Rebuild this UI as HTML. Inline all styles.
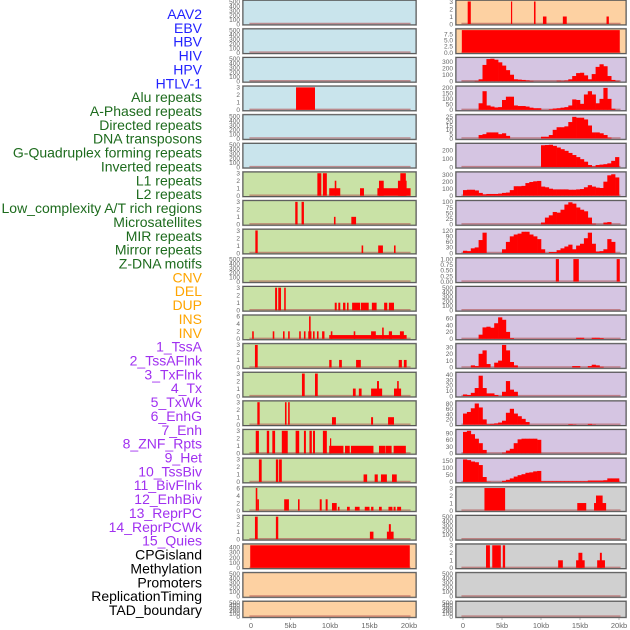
<!DOCTYPE html>
<html><head><meta charset="utf-8"><style>
html,body{margin:0;padding:0;background:#fff;}
svg{display:block;font-family:"Liberation Sans",sans-serif;}
</style></head><body>
<svg id="chart" width="630" height="630" viewBox="0 0 630 630" xmlns="http://www.w3.org/2000/svg">
<g id="labels"></g>
<g id="panels"></g>
<g id="xaxes"></g>
</svg>
<script>
const trackLabels = ["AAV2","EBV","HBV","HIV","HPV","HTLV-1","Alu repeats","A-Phased repeats","Directed repeats","DNA transposons","G-Quadruplex forming repeats","Inverted repeats","L1 repeats","L2 repeats","Low_complexity A/T rich regions","Microsatellites","MIR repeats","Mirror repeats","Z-DNA motifs","CNV","DEL","DUP","INS","INV","1_TssA","2_TssAFlnk","3_TxFlnk","4_Tx","5_TxWk","6_EnhG","7_Enh","8_ZNF_Rpts","9_Het","10_TssBiv","11_BivFlnk","12_EnhBiv","13_ReprPC","14_ReprPCWk","15_Quies","CPGisland","Methylation","Promoters","ReplicationTiming","TAD_boundary"];
const xTickValues = [0,5,10,15,20];
const xTickLabels = ["0","5kb","10kb","15kb","20kb"];
const emptyTicks = [0,100,200,300,400,500];

// Left column segments [startKb, endKb, value]
const leftAlu = [[5.7,8.1,3]];
const leftRow6 = [[8.4,8.9,3],[9.1,9.6,3],[9.9,11.3,1],[10.6,10.8,2],[13.8,14.3,1],[16,20.2,1],[16.2,16.8,2],[18.6,19.7,2],[18.9,19.6,3]];
const leftRow7 = [[5.6,5.9,3],[6.4,6.7,3],[10.5,10.7,1],[12.7,13.3,1]];
const leftRow8 = [[0.55,0.85,3],[14,14.2,1],[16.1,16.7,1],[18.1,18.3,1]];
const leftRow10 = [[3.05,3.3,3],[3.45,3.8,3],[4.2,4.4,3],[10.6,10.85,1],[11.05,11.3,1],[11.65,11.95,1],[12.15,12.35,1],[12.8,13.8,1],[13.9,14.9,1],[15.3,15.9,1],[16.85,17.25,1],[17.45,18.1,1]];
const leftRow11 = [[0.15,0.35,2],[2.75,2.95,2],[4.05,4.25,2],[4.7,4.9,2],[6.1,6.3,2],[6.7,6.9,2],[7.25,7.65,2],[7.35,7.55,6],[7.85,8.05,2],[8.35,8.55,2],[9,9.3,2],[9.9,19.7,1],[10.1,10.3,2],[13,13.2,2],[15.2,15.8,2],[16.6,16.8,3],[17.45,17.85,2],[18.85,19.35,2]];
const leftRow12 = [[0.5,0.85,3],[9.9,10.2,1],[11.15,11.5,1],[13.3,13.9,1],[18.7,19.1,1],[19.35,19.7,1]];
const leftRow13 = [[6.45,6.8,3],[8.1,8.45,3],[12.9,13.25,1],[13.65,14,1],[15.2,16.6,1],[15.95,16.2,2],[18.1,19,1],[18.5,18.7,2]];
const leftRow14 = [[0.8,1.1,3],[4.3,4.5,3],[4.7,4.9,3],[10.25,10.75,1],[15.2,15.45,1],[17.35,18.1,1]];
const leftRow15 = [[0.6,1.0,3],[2.0,2.3,3],[2.7,3.05,3],[3.9,4.65,3],[5.65,6.1,3],[6.7,6.95,3],[7.4,7.7,3],[7.85,8.1,3],[9.1,9.6,3],[10,10.15,2],[9.9,11.7,1],[11.9,12.5,1],[12.65,15.5,1],[16.2,17,1],[17.05,17.8,1],[18.05,19.6,1]];
const leftRow16 = [[1.0,1.35,3],[3.15,3.45,3],[3.55,3.9,3],[14.25,14.7,1],[15.65,16.05,1],[16.45,17.2,1],[17.85,18.45,1]];
const leftRow17 = [[0.6,0.8,6],[0.8,1.0,3],[4.2,4.8,3],[5.95,6.15,3],[8.7,8.95,3],[9.45,9.7,3],[10.25,10.85,2],[11,11.2,1],[12.15,12.5,1],[13.15,13.75,1],[14.4,15,1],[15.2,15.5,1],[16.2,16.55,1],[17.4,17.9,1],[18.05,18.3,1],[18.5,19,1]];
const leftRow18 = [[0.5,0.85,3],[3.15,3.45,3],[15.05,15.5,1],[17.2,18.05,1],[17.45,17.7,2]];
const leftCpg = [[-0.1,20.1,440]];

// Right column segments
const rightRow0 = [[0.6,1.0,3],[6.15,6.3,3],[9.1,9.3,3],[10.25,10.7,1],[12.8,13.3,1],[18.4,18.7,1]];
const rightRow1 = [[-0.15,20.1,9.1]];
const rightRow9 = [[11.9,12.3,1],[14.15,14.85,1],[19.7,20.1,1]];
const rightRow17 = [[2.75,5.4,3],[14.65,15.8,1],[16.8,18.35,1],[17.05,17.9,2]];
const rightRow19 = [[2.95,3.45,3],[3.75,4.85,3],[5.1,5.4,3],[12.2,12.8,1],[14.5,15.6,1],[14.8,15.3,2],[17.2,18.2,1],[17.55,17.8,2]];

// Right column binned values (0.5kb bins from 0 to 20kb)
const rightRow2 = [0,0,0,5,30,250,340,345,330,290, 240,170,100,30,25,20,12,5,0,0, 0,0,0,0,8,5,10,30,80,125, 130,90,30,110,220,260,230,80,20,5];
const rightRow3 = [0,0,0,0,60,170,40,30,22,25, 90,120,120,40,35,35,30,20,15,15, 0,0,5,12,15,20,25,40,95,90, 55,140,170,140,60,100,200,100,10,0];
const rightRow4 = [0,0,0,0,4,5,7,7,7,5, 6,3,0,0,0,0,0,0,0,0, 2,2,4,10,13,13,14,19,25,24, 24,22,15,7,7,6,4,1,0,0];
const rightRow5 = [0,0,0,0,0,0,0,0,0,0, 0,0,0,0,0,0,0,0,0,0, 262,265,268,255,235,215,195,170,145,120, 95,65,25,8,25,30,35,45,75,120];
const rightRow6 = [80,85,85,75,40,20,25,25,25,30, 40,45,80,135,135,140,180,195,205,210, 130,120,100,90,90,90,90,85,85,90, 95,120,150,130,115,110,200,290,305,260];
const rightRow7 = [0,0,0,0,0,0,0,0,0,0, 0,0,0,0,0,0,0,0,0,0, 8,30,40,55,52,65,88,98,92,75, 65,58,30,3,0,0,8,10,0,0];
const rightRow8 = [12,10,25,30,70,110,0,0,0,0, 20,60,90,100,105,115,115,100,90,75, 20,0,5,5,15,25,35,45,20,40, 50,80,110,50,8,10,20,75,60,0];
const rightRow11 = [0,0,0,0,12,33,35,32,45,62, 55,20,2,0,0,0,0,0,0,0, 0,0,0,0,0,0,0,0,0,3, 3,0,0,3,3,2,0,0,0,0];
const rightRow12 = [0,0,3,2,20,25,5,0,7,10, 33,25,8,3,0,0,0,0,0,0, 0,0,0,0,0,0,0,0,2,2, 0,0,2,4,3,1,0,0,0,0];
const rightRow13 = [3,2,6,15,38,15,5,5,2,0, 8,28,12,8,0,0,0,0,0,0, 0,0,0,0,0,0,0,0,0,0, 0,0,0,0,0,0,0,0,0,0];
const rightRow14 = [42,48,62,80,65,20,2,3,5,8, 15,45,60,42,32,22,10,0,0,0, 0,0,0,0,0,0,0,2,1,0, 0,0,3,1,0,0,0,0,0,0];
const rightRow15 = [95,100,85,65,45,15,0,0,0,0, 3,12,20,45,62,65,65,65,65,60, 0,0,0,0,0,0,0,0,0,0, 0,0,0,0,0,0,0,0,0,0];
const rightRow16 = [160,155,145,140,120,35,2,0,0,0, 8,15,25,38,48,55,65,68,75,78, 5,5,5,5,5,5,5,5,5,5, 5,5,10,10,10,10,12,25,25,25];

const BLUE="#c9e4ec", GREEN="#c9e2a6", ORANGE="#fdd1a2", PURPLE="#d5c5e2", GRAY="#d0d0d0";
const t3=[0,1,2,3], t6=[0,2,4,6];
const leftPanels = [
 {bg:BLUE,ymax:500,ticks:emptyTicks,segs:[]},
 {bg:BLUE,ymax:500,ticks:emptyTicks,segs:[]},
 {bg:BLUE,ymax:500,ticks:emptyTicks,segs:[]},
 {bg:BLUE,ymax:3,ticks:t3,segs:leftAlu},
 {bg:BLUE,ymax:500,ticks:emptyTicks,segs:[]},
 {bg:BLUE,ymax:500,ticks:emptyTicks,segs:[]},
 {bg:GREEN,ymax:3,ticks:t3,segs:leftRow6},
 {bg:GREEN,ymax:3,ticks:t3,segs:leftRow7},
 {bg:GREEN,ymax:3,ticks:t3,segs:leftRow8},
 {bg:GREEN,ymax:500,ticks:emptyTicks,segs:[]},
 {bg:GREEN,ymax:3,ticks:t3,segs:leftRow10},
 {bg:GREEN,ymax:6,ticks:t6,segs:leftRow11},
 {bg:GREEN,ymax:3,ticks:t3,segs:leftRow12},
 {bg:GREEN,ymax:3,ticks:t3,segs:leftRow13},
 {bg:GREEN,ymax:3,ticks:t3,segs:leftRow14},
 {bg:GREEN,ymax:3,ticks:t3,segs:leftRow15},
 {bg:GREEN,ymax:3,ticks:t3,segs:leftRow16},
 {bg:GREEN,ymax:6,ticks:t6,segs:leftRow17},
 {bg:GREEN,ymax:3,ticks:t3,segs:leftRow18},
 {bg:ORANGE,ymax:440,ticks:[0,100,200,300,400],segs:leftCpg},
 {bg:ORANGE,ymax:500,ticks:emptyTicks,segs:[]},
 {bg:ORANGE,ymax:500,ticks:emptyTicks,segs:[]}
];
const rightPanels = [
 {bg:ORANGE,ymax:3,ticks:t3,segs:rightRow0},
 {bg:ORANGE,ymax:9.1,ticks:[0,2.5,5,7.5],fmt:1,segs:rightRow1},
 {bg:PURPLE,ymax:345,ticks:[0,100,200,300],bins:rightRow2},
 {bg:PURPLE,ymax:205,ticks:[0,50,100,150,200],bins:rightRow3},
 {bg:PURPLE,ymax:26,ticks:[0,5,10,15,20,25],bins:rightRow4},
 {bg:PURPLE,ymax:270,ticks:[0,100,200],bins:rightRow5},
 {bg:PURPLE,ymax:320,ticks:[0,100,200,300],bins:rightRow6},
 {bg:PURPLE,ymax:100,ticks:[0,25,50,75,100],bins:rightRow7},
 {bg:PURPLE,ymax:122,ticks:[0,30,60,90,120],bins:rightRow8},
 {bg:PURPLE,ymax:1,ticks:[0,0.25,0.5,0.75,1],fmt:2,segs:rightRow9},
 {bg:PURPLE,ymax:500,ticks:emptyTicks,segs:[]},
 {bg:PURPLE,ymax:65,ticks:[0,20,40,60],bins:rightRow11},
 {bg:PURPLE,ymax:33,ticks:[0,10,20,30],bins:rightRow12},
 {bg:PURPLE,ymax:42,ticks:[0,10,20,30,40],bins:rightRow13},
 {bg:PURPLE,ymax:85,ticks:[0,20,40,60,80],bins:rightRow14},
 {bg:PURPLE,ymax:100,ticks:[0,30,60,90],bins:rightRow15},
 {bg:PURPLE,ymax:160,ticks:[0,50,100,150],bins:rightRow16},
 {bg:GRAY,ymax:3,ticks:t3,segs:rightRow17},
 {bg:GRAY,ymax:500,ticks:emptyTicks,segs:[]},
 {bg:GRAY,ymax:3,ticks:t3,segs:rightRow19},
 {bg:GRAY,ymax:500,ticks:emptyTicks,segs:[]},
 {bg:GRAY,ymax:500,ticks:emptyTicks,segs:[]}
];

const NS="http://www.w3.org/2000/svg";
function mk(tag, attrs, parent){const e=document.createElementNS(NS,tag);for(const k in attrs)e.setAttribute(k,attrs[k]);parent.appendChild(e);return e;}
const cols=[{x0:243,x1:416,z:251,s:7.9},{x0:456,x1:626,z:463,s:7.8}];
function rowTop(r){return 0.3+r*28.62;}
function rowH(r){return r===21?16:24.5;}

// labels
const lg=document.getElementById('labels');
trackLabels.forEach((t,i)=>{
  let c = i<6?"#2222ff":i<19?"#1d6b1d":i<24?"#ffa500":i<39?"#a030f0":"#000";
  const e=mk('text',{x:202,y:(19+i*13.86).toFixed(1),'text-anchor':'end','font-size':'14',fill:c},lg);
  
  
  e.textContent=t;
});

const pg=document.getElementById('panels');
function drawPanel(ci, r, p){
  const c=cols[ci], top=rowTop(r), h=rowH(r), bot=top+h;
  const g=mk('g',{},pg);
  
  
  mk('rect',{x:c.x0-0.5,y:top-0.5,width:c.x1-c.x0+1,height:h+1,fill:'none',stroke:'#aaa','stroke-width':1},g);
  mk('rect',{x:c.x0,y:top,width:c.x1-c.x0,height:h,fill:p.bg,stroke:'#555','stroke-width':1},g);
  const yb=bot-0.8, span=h-2;
  const Y=v=>yb-Math.min(v,p.ymax)/p.ymax*span;
  const X=kb=>c.z+kb*c.s;
  const bl=mk('line',{x1:X(-0.2),x2:X(20.2),y1:yb-0.5,y2:yb-0.5,stroke:'#b05050','stroke-width':1.4,'stroke-opacity':0.6},g);
  
  if(p.segs){p.segs.forEach(s=>{
    const b=mk('rect',{x:X(s[0]).toFixed(2),y:Y(s[2]).toFixed(2),width:Math.max(1.2,X(s[1])-X(s[0])).toFixed(2),height:(yb-Y(s[2])).toFixed(2),fill:'#ff0000'},g);
    
    
  });}
  if(p.bins){p.bins.forEach((v,i)=>{ if(v<=0)return;
    const b=mk('rect',{x:X(i*0.5).toFixed(2),y:Y(v).toFixed(2),width:(X(0.5)-X(0)+0.3).toFixed(2),height:(yb-Y(v)).toFixed(2),fill:'#ff0000'},g);
    
    
  });}
  p.ticks.forEach(t=>{
    const lab = p.fmt===1? t.toFixed(1) : p.fmt===2? t.toFixed(2) : String(t);
    const e=mk('text',{x:c.x0-3,y:(Y(t)+2.3).toFixed(2),'text-anchor':'end','font-size':'6.5',fill:'#666'},g);
    
    
    e.textContent=lab;
  });
}
leftPanels.forEach((p,r)=>drawPanel(0,r,p));
rightPanels.forEach((p,r)=>drawPanel(1,r,p));

const xg=document.getElementById('xaxes');
cols.forEach((c,ci)=>{
  xTickValues.forEach((v,i)=>{
    const x=c.z+v*c.s;
    mk('line',{x1:x,x2:x,y1:618,y2:620,stroke:'#888','stroke-width':0.6},xg);
    const e=mk('text',{x:x,y:628,'text-anchor':'middle','font-size':'7.5',fill:'#666'},xg);
    
    
    e.textContent=xTickLabels[i];
  });
});
</script>
</body></html>
